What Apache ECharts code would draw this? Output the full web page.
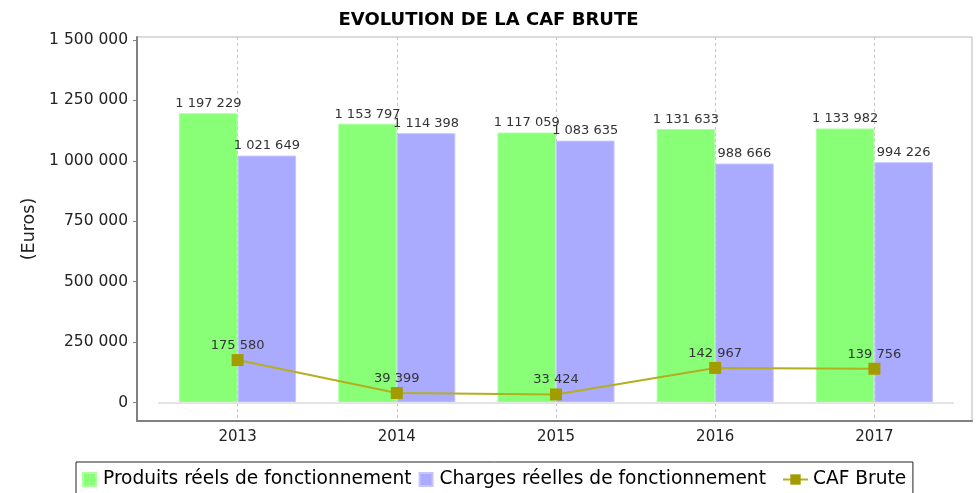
<!DOCTYPE html>
<html>
<head>
<meta charset="utf-8">
<script src="https://cdn.jsdelivr.net/npm/echarts@6/dist/echarts.min.js"></script>
<style>html,body{margin:0;padding:0;background:#fff;}#c{width:977px;height:493px;}</style>
</head>
<body>
<div id="c"></div>
<script>
const categories = ['2013', '2014', '2015', '2016', '2017'];
const produits = [1197229, 1153797, 1117059, 1131633, 1133982];
const charges = [1021649, 1114398, 1083635, 988666, 994226];
const caf = [175580, 39399, 33424, 142967, 139756];
const yTicks = [0, 250000, 500000, 750000, 1000000, 1250000, 1500000];

const FONT = 'DejaVu Sans';
function fmt(v) { return String(v).replace(/\B(?=(\d{3})+(?!\d))/g, ' '); }

const yMin = -76500, yMax = 1512400;

const chart = echarts.init(document.getElementById('c'), null, { renderer: 'canvas' });
chart.setOption({
  animation: false,
  backgroundColor: '#ffffff',
  title: {
    text: 'EVOLUTION DE LA CAF BRUTE',
    left: 'center', top: 6,
    textStyle: { fontFamily: FONT, fontSize: 18, fontWeight: 'bold', color: '#000' }
  },
  legend: [
    {
      left: 76, top: 462,
      orient: 'horizontal',
      itemWidth: 13, itemHeight: 13, itemGap: 7,
      padding: [8, 147, 14, 6],
      borderColor: '#222', borderWidth: 1,
      textStyle: { fontFamily: FONT, fontSize: 18.6, color: '#000', padding: [0, 0, 0, 2] },
      data: [
        { name: 'Produits réels de fonctionnement', icon: 'rect' },
        { name: 'Charges réelles de fonctionnement', icon: 'rect' }
      ]
    },
    {
      left: 782, top: 462,
      orient: 'horizontal',
      itemWidth: 25, itemHeight: 13,
      padding: [8, 0, 14, 0],
      borderWidth: 0,
      textStyle: { fontFamily: FONT, fontSize: 18.6, color: '#000' },
      data: [{ name: 'CAF Brute' }]
    }
  ],
  grid: [
    { left: 137, right: 5, top: 37, bottom: 72, show: true, borderColor: '#b8b8b8', borderWidth: 1, backgroundColor: 'transparent' },
    { left: 158, right: 23, top: 37, bottom: 72 }
  ],
  xAxis: [
    {
      gridIndex: 0, type: 'value', min: 0, max: 1,
      axisLine: { show: true, onZero: false, lineStyle: { color: '#808080', width: 2 } },
      axisTick: { show: false }, axisLabel: { show: false }, splitLine: { show: false }
    },
    {
      gridIndex: 1, type: 'category', data: categories,
      axisLine: { show: false }, axisTick: { show: false },
      axisLabel: { fontFamily: FONT, fontSize: 15, color: '#222', margin: 9 },
      splitLine: { show: true, alignWithLabel: true, lineStyle: { color: '#c4c4c4', type: [3, 3], width: 1 } }
    }
  ],
  yAxis: [
    {
      gridIndex: 0, type: 'value', min: yMin, max: yMax,
      name: '(Euros)', nameLocation: 'middle', nameGap: 98, nameRotate: 90,
      nameTextStyle: { fontFamily: FONT, fontSize: 17.5, color: '#222' },
      axisLine: { show: true, onZero: false, lineStyle: { color: '#808080', width: 2 } },
      axisTick: { show: true, length: 4, customValues: yTicks, lineStyle: { color: '#808080' } },
      axisLabel: { fontFamily: FONT, fontSize: 15.5, color: '#222', margin: 9, customValues: yTicks, formatter: fmt },
      splitLine: { show: false }
    },
    {
      gridIndex: 1, type: 'value', min: yMin, max: yMax, show: false,
      splitLine: { show: false }
    }
  ],
  series: [
    {
      name: 'Produits réels de fonctionnement', type: 'bar',
      xAxisIndex: 1, yAxisIndex: 1,
      data: produits,
      barGap: '0%', barCategoryGap: '26.5%',
      itemStyle: { color: '#88ff77', borderColor: '#aaffa0', borderWidth: 1 },
      label: { show: true, position: 'top', distance: 3, fontFamily: FONT, fontSize: 13, color: '#333', formatter: p => fmt(p.value) },
      markLine: {
        silent: true, symbol: 'none', label: { show: false },
        lineStyle: { color: '#e4e4e4', type: 'solid', width: 2 },
        data: [{ yAxis: 0 }]
      },
      z: 2
    },
    {
      name: 'Charges réelles de fonctionnement', type: 'bar',
      xAxisIndex: 1, yAxisIndex: 1,
      data: charges,
      barGap: '0%', barCategoryGap: '26.5%',
      itemStyle: { color: '#aaaaff', borderColor: '#c4c4ff', borderWidth: 1 },
      label: { show: true, position: 'top', distance: 3, fontFamily: FONT, fontSize: 13, color: '#333', formatter: p => fmt(p.value) },
      z: 2
    },
    {
      name: 'CAF Brute', type: 'line',
      xAxisIndex: 1, yAxisIndex: 1,
      data: caf,
      symbol: 'rect', symbolSize: 12,
      itemStyle: { color: '#a39c00' },
      lineStyle: { color: '#b4ae20', width: 2 },
      label: { show: true, position: 'top', distance: 2, fontFamily: FONT, fontSize: 13, color: '#333', formatter: p => fmt(p.value) },
      z: 5
    }
  ]
});
</script>
</body>
</html>
